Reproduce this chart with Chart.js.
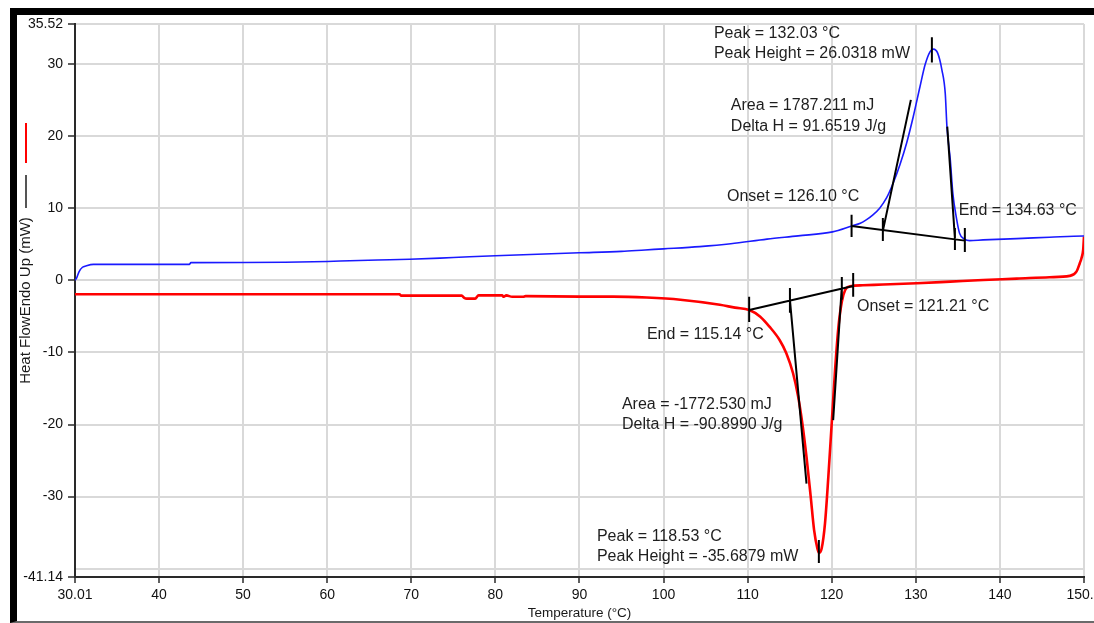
<!doctype html>
<html lang="en">
<head>
<meta charset="utf-8" />
<title>DSC heat flow</title>
<script src="https://cdn.jsdelivr.net/npm/chart.js@4.4.4/dist/chart.umd.min.js"></script>
<style>
  html, body { margin: 0; padding: 0; background: #fff; overflow: hidden; }
  .frame { position: absolute; left: 10px; top: 8px; width: 1084px; height: 615px; box-sizing: border-box;
           border-left: 7px solid #000; border-top: 7px solid #000; border-bottom: 2px solid #6a6a6a; }
  #chart { position: absolute; left: 0; top: 0; }
</style>
</head>
<body>
<div class="frame"></div>
<canvas id="chart" width="1094" height="623"></canvas>
<script>
// heating run (blue, endotherm up) — temperature °C / heat flow mW
const heatT = [30.01, 30.2, 30.5, 30.9, 31.3, 32.2, 43.6, 43.8, 50, 55, 60, 62.7, 66, 69.8, 75, 80, 85, 90, 95, 97.8, 100, 104.3, 108, 112.3, 116, 120.1,
  122.4, 123.4, 124.1, 124.9, 125.7, 126.5, 127.3, 128.1, 128.9, 129.7, 130.5, 131.1, 131.7, 132.1, 132.6, 133.1, 133.5, 133.7, 134.1, 134.4, 134.8, 135.2,
  135.8, 136.4, 138, 142, 145.9, 149.9, 150];
const heatHF = [0, 0.3, 1.2, 1.8, 1.98, 2.2, 2.2, 2.44, 2.45, 2.5, 2.6, 2.7, 2.8, 2.9, 3.15, 3.4, 3.6, 3.8, 4.0, 4.2, 4.35, 4.66, 5.05, 5.7, 6.15, 6.7,
  7.53, 7.9, 8.36, 9.06, 9.99, 11.37, 13.45, 15.99, 19.0, 22.7, 26.85, 29.86, 31.7, 32.04, 31.48, 29.17, 25.9, 21.3, 16.7, 12.07, 8.82, 6.52,
  5.69, 5.49, 5.59, 5.77, 5.96, 6.14, 6.14];

// cooling run (red)
const coolT = [30.01, 68.6, 68.8, 76.0, 76.3, 76.6, 77.6, 78.0, 80.8, 81.0, 81.3, 82.0, 83.3, 83.6, 90, 94, 98, 102, 106.7, 108.5, 110.2, 111.5, 112.6,
  113.8, 114.6, 115.4, 116.0, 116.5, 117.0, 117.5, 117.9, 118.3, 118.5, 118.8, 119.2, 119.6, 120.0, 120.4, 120.8, 121.2, 121.6, 122.2, 123.7, 126.1,
  130.1, 134.1, 138, 142, 145.9, 148.3, 149.1, 149.5, 149.7, 149.9, 150];
const coolHF = [-1.94, -1.94, -2.14, -2.14, -2.45, -2.55, -2.55, -2.1, -2.1, -2.3, -2.1, -2.3, -2.3, -2.2, -2.27, -2.27, -2.4, -2.7, -3.4, -3.8, -4.12, -5.05, -6.44,
  -8.28, -10.12, -12.9, -16.1, -19.8, -24.5, -30.0, -34.6, -37.2, -37.8, -37.2, -33.7, -27.2, -19.8, -12.4, -6.44, -2.97, -1.35, -0.85, -0.7, -0.6,
  -0.42, -0.19, 0.04, 0.22, 0.42, 0.6, 1.19, 2.36, 3.05, 4.2, 6.05];

// analysis construction lines [t1, hf1, t2, hf2]: baseline, tangents, marker ticks
const heatMarks = [
  [122.36, 7.53, 135.83, 5.49],
  [126.08, 6.84, 129.41, 25.0],
  [133.74, 21.3, 134.65, 5.8],
  [122.36, 9.06, 122.36, 6.0],
  [126.08, 8.64, 126.08, 5.45],
  [134.65, 7.25, 134.65, 4.2],
  [135.83, 7.25, 135.83, 3.9],
  [131.91, 33.7, 131.91, 30.2],
];
const coolMarks = [
  [110.18, -4.12, 122.55, -0.8],
  [115.03, -2.73, 117.0, -28.2],
  [120.17, -19.4, 121.17, -1.35],
  [110.18, -2.3, 110.18, -5.8],
  [115.03, -1.07, 115.03, -4.5],
  [121.2, 0.46, 121.2, -2.7],
  [122.55, 1.0, 122.55, -2.3],
  [118.47, -36.0, 118.47, -39.2],
];

// result labels [text, temperature, heat flow] (left / middle anchor)
const heatNotes = [
  ["Peak = 132.03 °C", 105.99, 34.16],
  ["Peak Height = 26.0318 mW", 105.99, 31.39],
  ["Area = 1787.211 mJ", 108.0, 24.17],
  ["Delta H = 91.6519 J/g", 108.0, 21.26],
  ["Onset = 126.10 °C", 107.54, 11.55],
  ["End = 134.63 °C", 135.12, 9.61],
];
const coolNotes = [
  ["Onset = 121.21 °C", 123.0, -3.7],
  ["End = 115.14 °C", 98.02, -7.59],
  ["Area = -1772.530 mJ", 95.05, -17.3],
  ["Delta H = -90.8990 J/g", 95.05, -20.07],
  ["Peak = 118.53 °C", 92.08, -35.6],
  ["Peak Height = -35.6879 mW", 92.08, -38.37],
];

const xTickValues = [30.01, 40, 50, 60, 70, 80, 90, 100, 110, 120, 130, 140, 150];
const xTickLabels = ["30.01", "40", "50", "60", "70", "80", "90", "100", "110", "120", "130", "140", "150.0"];
const yTickValues = [-41.14, -40, -30, -20, -10, 0, 10, 20, 30, 35.52];
const yTickLabels = ["-41.14", "", "-30", "-20", "-10", "0", "10", "20", "30", "35.52"];

const FONT = '"Liberation Sans", Arial, sans-serif';

function toPoints(xs, ys) {
  return xs.map((x, i) => ({ x, y: ys[i] }));
}
function segPoints(segs) {
  // null y breaks the line between segments
  return segs.flatMap(([t1, h1, t2, h2]) => [{ x: t1, y: h1 }, { x: t2, y: h2 }, { x: t2, y: null }]);
}

const notesPlugin = {
  id: "notes",
  afterDatasetsDraw(chart) {
    const { ctx, scales } = chart;
    ctx.save();
    ctx.font = "16px " + FONT;
    ctx.fillStyle = "#1e1e1e";
    ctx.textAlign = "left";
    ctx.textBaseline = "middle";
    [...heatNotes, ...coolNotes].forEach(([text, t, hf]) => {
      ctx.fillText(text, scales.x.getPixelForValue(t), scales.y.getPixelForValue(hf));
    });
    // legend swatches next to the y title
    ctx.lineWidth = 2;
    ctx.strokeStyle = "#ff0000";
    ctx.beginPath(); ctx.moveTo(26, 123); ctx.lineTo(26, 163); ctx.stroke();
    ctx.strokeStyle = "#555";
    ctx.beginPath(); ctx.moveTo(26, 175); ctx.lineTo(26, 208); ctx.stroke();
    ctx.restore();
  },
};

const gridColor = "#d9d9d9";
const axisColor = "#2a2a2a";

new Chart(document.getElementById("chart"), {
  type: "line",
  data: {
    datasets: [
      { label: "heat marks", data: segPoints(heatMarks), borderColor: "#000", borderWidth: 2, pointRadius: 0, spanGaps: false, order: 0 },
      { label: "cool marks", data: segPoints(coolMarks), borderColor: "#000", borderWidth: 2, pointRadius: 0, spanGaps: false, order: 0 },
      { label: "Heating", data: toPoints(heatT, heatHF), borderColor: "#1a1aff", borderWidth: 1.6, pointRadius: 0, cubicInterpolationMode: "monotone", order: 1 },
      { label: "Cooling", data: toPoints(coolT, coolHF), borderColor: "#ff0000", borderWidth: 2.6, pointRadius: 0, cubicInterpolationMode: "monotone", order: 1 },
    ],
  },
  options: {
    responsive: false,
    animation: false,
    parsing: false,
    layout: { padding: { left: 0, right: 10, top: 24, bottom: 0 } },
    plugins: { legend: { display: false }, tooltip: { enabled: false } },
    scales: {
      x: {
        type: "linear",
        min: 30.01,
        max: 150,
        afterBuildTicks: (s) => { s.ticks = xTickValues.map((value) => ({ value })); },
        afterFit: (s) => { s.height = 46; s.paddingRight = 0; s.paddingLeft = 0; },
        ticks: { autoSkip: false, maxRotation: 0, padding: 4, color: "#111", font: { family: FONT, size: 14 },
          callback: (v, i) => xTickLabels[i] },
        grid: { color: gridColor, lineWidth: 2, tickLength: 6, tickColor: axisColor, tickWidth: 1.5 },
        border: { display: true, color: axisColor, width: 2 },
        title: { display: true, text: "Temperature (°C)", color: "#1a1a1a", font: { family: FONT, size: 13.5 }, padding: { top: 0, bottom: 2 } },
      },
      y: {
        type: "linear",
        min: -41.14,
        max: 35.52,
        afterBuildTicks: (s) => { s.ticks = yTickValues.map((value) => ({ value })); },
        afterFit: (s) => { s.width = 75; },
        ticks: { autoSkip: false, padding: 5, color: "#111", font: { family: FONT, size: 14 },
          callback: (v, i) => yTickLabels[i] },
        grid: { color: gridColor, lineWidth: 2, tickLength: 7, tickWidth: 1.5,
          tickColor: (c) => (c.tick && c.tick.value === -40 ? "rgba(0,0,0,0)" : axisColor) },
        border: { display: true, color: axisColor, width: 2 },
        title: { display: true, text: "Heat FlowEndo Up (mW)", color: "#1a1a1a", font: { family: FONT, size: 15 }, padding: { top: 17, bottom: 0 } },
      },
    },
  },
  plugins: [notesPlugin],
});
</script>
</body>
</html>
